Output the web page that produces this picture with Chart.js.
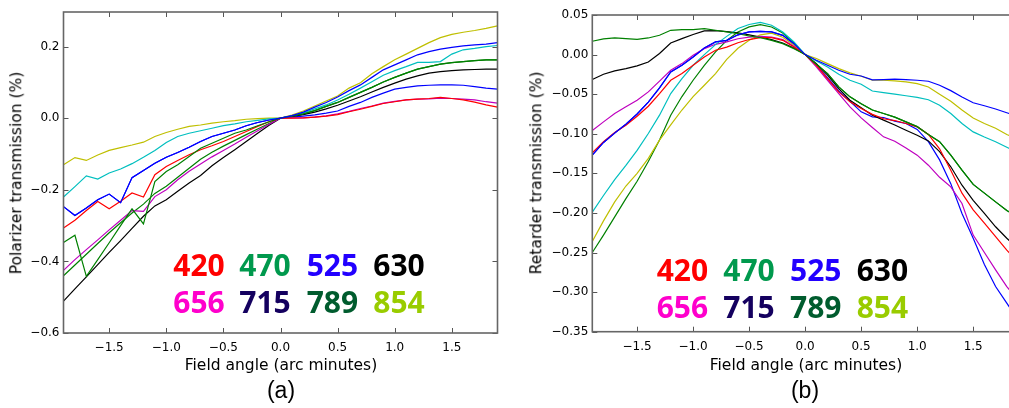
<!DOCTYPE html>
<html><head><meta charset="utf-8">
<script src="https://cdn.jsdelivr.net/npm/chart.js@4.4.0/dist/chart.umd.min.js"></script>
<style>
html,body{margin:0;padding:0;background:#fff;overflow:hidden;width:1009px;height:408px;}
#wrap{position:relative;width:1009px;height:408px;overflow:hidden;}
canvas{position:absolute;top:0;}
.t{position:absolute;font-family:"DejaVu Sans";color:#000;white-space:nowrap;line-height:1;font-size:15.5px;}
.rot{transform:translate(-50%,-50%) rotate(-90deg);}
.cx{transform:translateX(-50%);}
.pl{position:absolute;font-family:"Liberation Sans";font-size:23px;line-height:1;white-space:nowrap;transform:translateX(-50%);}
.lg{position:absolute;font-family:"Open Sans";font-weight:700;font-size:30px;line-height:1;white-space:nowrap;}
</style></head>
<body><div id="wrap">
<canvas id="ca" width="520" height="408" style="left:0"></canvas>
<canvas id="cb" width="530" height="408" style="left:510px"></canvas>

<div class="t rot" style="left:17px;top:172.5px">Polarizer transmission (%)</div>
<div class="t cx" style="left:281px;top:357.5px">Field angle (arc minutes)</div>
<div class="pl" style="left:281px;top:378.5px">(a)</div>

<div class="t rot" style="left:537px;top:173px">Retarder transmission (%)</div>
<div class="t cx" style="left:806px;top:357.5px">Field angle (arc minutes)</div>
<div class="pl" style="left:805px;top:378.5px">(b)</div>
<div id="legends"></div>
</div>
<script>
// ---------- shared data ----------
const xs = [-1.9,-1.8,-1.7,-1.6,-1.5,-1.4,-1.3,-1.2,-1.1,-1.0,-0.9,-0.8,-0.7,-0.6,-0.5,-0.4,-0.3,-0.2,-0.1,0.0,
            0.1,0.2,0.3,0.4,0.5,0.6,0.7,0.8,0.9,1.0,1.1,1.2,1.3,1.4,1.5,1.6,1.7,1.8,1.9];
const xTickValues = [-1.5,-1.0,-0.5,0.0,0.5,1.0,1.5];
const xTickLabels = ['\u22121.5','\u22121.0','\u22120.5','0.0','0.5','1.0','1.5'];

const legendLabels = ['420','470','525','630','656','715','789','854'];
const legendColors = ['#ff0000','#00994d','#2200ff','#000000','#ff00cc','#14005f','#005c2e','#99cc00'];

// ---------- panel (a): polarizer ----------
const aYTickValues = [0.2,0.0,-0.2,-0.4,-0.6];
const aYTickLabels = ['0.2','0.0','\u22120.2','\u22120.4','\u22120.6'];
const aBlue1 = [-0.247,-0.272,-0.251,-0.228,-0.212,-0.236,-0.166,-0.146,-0.126,-0.109,-0.096,-0.081,-0.065,-0.051,-0.042,-0.033,-0.021,-0.012,-0.005,0,
  0.007,0.017,0.031,0.044,0.059,0.077,0.093,0.114,0.135,0.149,0.163,0.177,0.186,0.193,0.198,0.202,0.205,0.207,0.211];
const aGreen1 = [-0.347,-0.327,-0.442,-0.395,-0.348,-0.300,-0.253,-0.295,-0.177,-0.149,-0.130,-0.107,-0.084,-0.070,-0.056,-0.042,-0.033,-0.021,-0.010,0,
  0.0056,0.012,0.021,0.033,0.044,0.058,0.072,0.086,0.101,0.114,0.126,0.137,0.144,0.151,0.155,0.158,0.161,0.163,0.163];
const aRed = [-0.307,-0.285,-0.258,-0.233,-0.253,-0.232,-0.209,-0.220,-0.158,-0.135,-0.118,-0.102,-0.088,-0.077,-0.065,-0.051,-0.037,-0.023,-0.010,0,
  0.000,0.001,0.003,0.0056,0.010,0.018,0.025,0.033,0.041,0.046,0.051,0.053,0.055,0.058,0.055,0.051,0.045,0.037,0.031];
const aCyan = [-0.220,-0.191,-0.161,-0.170,-0.153,-0.142,-0.127,-0.109,-0.090,-0.068,-0.051,-0.042,-0.035,-0.028,-0.021,-0.016,-0.010,-0.006,-0.002,0,
  0.0065,0.015,0.026,0.037,0.051,0.067,0.084,0.102,0.120,0.133,0.144,0.156,0.156,0.158,0.179,0.191,0.195,0.200,0.203];
const aMagenta = [-0.425,-0.395,-0.367,-0.340,-0.312,-0.285,-0.258,-0.260,-0.219,-0.200,-0.172,-0.148,-0.128,-0.108,-0.090,-0.072,-0.053,-0.035,-0.017,0,
  0.001,0.001,0.003,0.0065,0.012,0.019,0.027,0.034,0.042,0.047,0.051,0.053,0.054,0.056,0.055,0.053,0.051,0.046,0.042];
const aYellow = [-0.130,-0.110,-0.118,-0.103,-0.090,-0.082,-0.075,-0.067,-0.051,-0.040,-0.031,-0.023,-0.019,-0.014,-0.010,-0.007,-0.003,-0.001,0,0,
  0.009,0.020,0.034,0.048,0.062,0.084,0.099,0.124,0.144,0.163,0.179,0.195,0.211,0.225,0.234,0.240,0.245,0.251,0.258];
const aBlack = [-0.511,-0.477,-0.443,-0.409,-0.375,-0.342,-0.308,-0.274,-0.245,-0.228,-0.204,-0.181,-0.160,-0.133,-0.110,-0.088,-0.065,-0.042,-0.020,0,
  0.005,0.010,0.017,0.026,0.036,0.048,0.060,0.073,0.086,0.098,0.109,0.118,0.126,0.130,0.133,0.135,0.136,0.137,0.137];
const aBlue2 = [-0.247,-0.272,-0.251,-0.228,-0.212,-0.236,-0.166,-0.146,-0.126,-0.109,-0.096,-0.081,-0.065,-0.051,-0.042,-0.033,-0.021,-0.012,-0.005,0,
  0.003,0.0056,0.009,0.014,0.020,0.033,0.044,0.058,0.070,0.081,0.086,0.090,0.092,0.093,0.093,0.092,0.088,0.084,0.081];
const aGreen2 = [-0.440,-0.410,-0.380,-0.350,-0.320,-0.292,-0.265,-0.240,-0.210,-0.190,-0.165,-0.140,-0.115,-0.095,-0.078,-0.062,-0.046,-0.030,-0.015,0,
  0.0056,0.012,0.021,0.033,0.044,0.058,0.072,0.086,0.101,0.114,0.126,0.137,0.144,0.151,0.155,0.158,0.161,0.163,0.163];

// ---------- panel (b): retarder ----------
const bYTickValues = [0.05,0.0,-0.05,-0.10,-0.15,-0.20,-0.25,-0.30,-0.35];
const bYTickLabels = ['0.05','0.00','\u22120.05','\u22120.10','\u22120.15','\u22120.20','\u22120.25','\u22120.30','\u22120.35'];
const bBlue1 = [-0.127,-0.111,-0.099,-0.088,-0.075,-0.060,-0.042,-0.022,-0.0135,-0.003,0.0084,0.016,0.018,0.025,0.0286,0.0294,0.0286,0.0243,0.0138,0,
  -0.0071,-0.0135,-0.0198,-0.0248,-0.027,-0.032,-0.0315,-0.031,-0.0315,-0.0324,-0.0337,-0.0387,-0.0455,-0.0535,-0.0608,-0.0646,-0.0687,-0.0734,-0.078];
const bGreen1 = [0.0168,0.0198,0.021,0.0202,0.0193,0.021,0.0244,0.0307,0.0315,0.0315,0.0328,0.0307,0.0286,0.0265,0.0235,0.0214,0.018,0.0138,0.0075,0,
  -0.0122,-0.024,-0.0408,-0.0534,-0.062,-0.070,-0.0744,-0.079,-0.085,-0.091,-0.1008,-0.110,-0.127,-0.146,-0.164,-0.175,-0.186,-0.197,-0.205];
const bRed = [-0.124,-0.110,-0.0984,-0.0892,-0.0778,-0.0652,-0.0492,-0.0324,-0.024,-0.0135,-0.003,0.0055,0.0095,0.015,0.019,0.0214,0.0214,0.018,0.0096,0,
  -0.0135,-0.0303,-0.0471,-0.0597,-0.068,-0.0755,-0.081,-0.0833,-0.087,-0.0913,-0.1008,-0.119,-0.146,-0.175,-0.196,-0.213,-0.230,-0.247,-0.262];
const bCyan = [-0.199,-0.178,-0.158,-0.140,-0.121,-0.0997,-0.0765,-0.0492,-0.0303,-0.0135,0.0,0.0126,0.023,0.033,0.038,0.0407,0.037,0.0286,0.0159,0,
  -0.008,-0.0156,-0.0248,-0.0324,-0.0375,-0.046,-0.048,-0.050,-0.052,-0.054,-0.057,-0.064,-0.0745,-0.087,-0.0976,-0.104,-0.110,-0.117,-0.124];
const bMagenta = [-0.096,-0.085,-0.0744,-0.066,-0.0576,-0.0471,-0.0336,-0.0198,-0.0114,-0.0008,0.0076,0.013,0.016,0.020,0.022,0.0231,0.0222,0.0189,0.0105,0,
  -0.0156,-0.0324,-0.0492,-0.066,-0.080,-0.092,-0.1039,-0.1095,-0.118,-0.127,-0.1397,-0.155,-0.167,-0.188,-0.228,-0.250,-0.272,-0.293,-0.310];
const bYellow = [-0.236,-0.210,-0.186,-0.166,-0.150,-0.131,-0.108,-0.0887,-0.070,-0.053,-0.0387,-0.024,-0.006,0.008,0.018,0.025,0.027,0.022,0.012,0,
  -0.005,-0.0114,-0.0177,-0.0231,-0.0273,-0.0324,-0.0324,-0.0332,-0.0345,-0.0366,-0.041,-0.050,-0.059,-0.070,-0.080,-0.087,-0.093,-0.101,-0.107];
const bBlack = [-0.0315,-0.0248,-0.0206,-0.0177,-0.0143,-0.0093,0.0013,0.0147,0.0202,0.0254,0.0299,0.0303,0.029,0.0276,0.025,0.0222,0.0189,0.0147,0.0084,0,
  -0.0114,-0.026,-0.0429,-0.0576,-0.067,-0.0766,-0.0828,-0.089,-0.0955,-0.1018,-0.109,-0.1225,-0.1417,-0.165,-0.184,-0.2006,-0.2175,-0.232,-0.245];
const bBlue2 = [-0.127,-0.111,-0.099,-0.088,-0.075,-0.060,-0.042,-0.022,-0.0135,-0.003,0.0084,0.016,0.018,0.025,0.0286,0.0294,0.0286,0.0243,0.0138,0,
  -0.013,-0.029,-0.046,-0.059,-0.0723,-0.0787,-0.0795,-0.084,-0.087,-0.0945,-0.110,-0.133,-0.163,-0.2006,-0.232,-0.265,-0.293,-0.314,-0.335];
const bGreen2 = [-0.250,-0.228,-0.205,-0.182,-0.160,-0.135,-0.108,-0.0765,-0.053,-0.0324,-0.0135,0.0034,0.018,0.0286,0.035,0.0378,0.0349,0.0273,0.0147,0,
  -0.0122,-0.024,-0.0408,-0.0534,-0.062,-0.070,-0.0744,-0.079,-0.085,-0.091,-0.1008,-0.110,-0.127,-0.146,-0.164,-0.175,-0.186,-0.197,-0.205];

// matplotlib classic colour cycle b g r c m y k b g
const lineColors = ['#0000ff','#008000','#ff0000','#00bfbf','#bf00bf','#bfbf00','#000000','#0000ff','#008000'];

function mkDatasets(seriesList){
  return seriesList.map((vals,i)=>({
    data: xs.map((x,j)=>({x:x,y:vals[j]})),
    borderColor: lineColors[i], borderWidth: 1.2, pointRadius: 0, tension: 0, fill:false
  }));
}

const framePlugin = {
  id:'frame',
  afterDatasetsDraw(chart){
    const {ctx, chartArea:a, scales} = chart;
    const x = scales.x, y = scales.y;
    ctx.save();
    ctx.strokeStyle = '#555'; ctx.lineWidth = 1;
    ctx.beginPath();
    x.ticks.forEach(t=>{ const p = Math.round(x.getPixelForValue(t.value))+0.5;
      ctx.moveTo(p,a.bottom); ctx.lineTo(p,a.bottom-5); ctx.moveTo(p,a.top); ctx.lineTo(p,a.top+5); });
    y.ticks.forEach(t=>{ const p = Math.round(y.getPixelForValue(t.value))+0.5;
      ctx.moveTo(a.left,p); ctx.lineTo(a.left+5,p); ctx.moveTo(a.right,p); ctx.lineTo(a.right-5,p); });
    ctx.stroke();
    ctx.strokeStyle = '#666'; ctx.lineWidth = 1.6;
    ctx.strokeRect(a.left, a.top, a.right-a.left, a.bottom-a.top);
    ctx.restore();
  }
};

function mkChart(id, series, yMin, yMax, yVals, yLabels, pad, yWidth, xHeight){
  return new Chart(document.getElementById(id), {
    type:'line',
    data:{datasets: mkDatasets(series)},
    options:{
      responsive:false, animation:false, events:[],
      layout:{padding:pad},
      plugins:{legend:{display:false}, tooltip:{enabled:false}},
      scales:{
        x:{type:'linear', min:-1.9, max:1.9,
           afterBuildTicks:s=>{ s.ticks = xTickValues.map(v=>({value:v})); },
           afterFit:s=>{ s.height = xHeight; },
           grid:{display:false, drawTicks:false}, border:{display:false},
           ticks:{padding:8, color:'#000', font:{family:'DejaVu Sans', size:12},
                  callback:(v,i)=>xTickLabels[i], maxRotation:0, autoSkip:false}},
        y:{type:'linear', min:yMin, max:yMax,
           afterBuildTicks:s=>{ s.ticks = yVals.map(v=>({value:v})); },
           afterFit:s=>{ s.width = yWidth; },
           grid:{display:false, drawTicks:false}, border:{display:false},
           ticks:{padding:4, color:'#000', font:{family:'DejaVu Sans', size:12},
                  callback:(v,i)=>yLabels[i], autoSkip:false}}
      }
    },
    plugins:[framePlugin]
  });
}

mkChart('ca', [aBlue1,aGreen1,aRed,aCyan,aMagenta,aYellow,aBlack,aBlue2,aGreen2],
  -0.6, 0.2966, aYTickValues, aYTickLabels, {top:12,right:22.5,bottom:0,left:0}, 63.5, 75);
mkChart('cb', [bBlue1,bGreen1,bRed,bCyan,bMagenta,bYellow,bBlack,bBlue2,bGreen2],
  -0.35, 0.05, bYTickValues, bYTickLabels, {top:15,right:22,bottom:0,left:0}, 82.3, 76.3);

// big coloured wavelength labels
const legendCols = {a:[173.3,239.3,306.7,373.3], b:[656.7,723.3,790,856.7]};
const legendRows = {a:[249.8,286.5], b:[254.8,291.5]};
const lgBox = document.getElementById('legends');
['a','b'].forEach(p=>{
  legendLabels.forEach((lab,i)=>{
    const d = document.createElement('div');
    d.className='lg'; d.textContent=lab; d.style.color=legendColors[i];
    d.style.left = legendCols[p][i%4]+'px'; d.style.top = legendRows[p][Math.floor(i/4)]+'px';
    lgBox.appendChild(d);
  });
});
</script>
</body></html>
